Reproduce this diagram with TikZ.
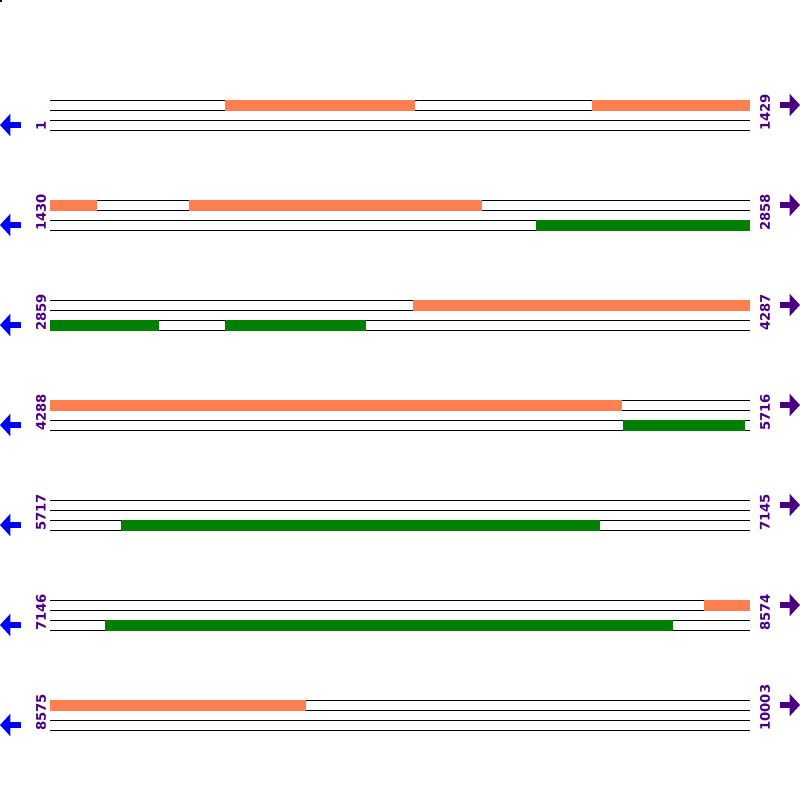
\documentclass[tikz,border=0pt]{standalone}
\usepackage{fontspec}
\setsansfont{DejaVu Sans}
\usetikzlibrary{arrows.meta}
\definecolor{coral}{HTML}{FF7F50}
\definecolor{leaf}{HTML}{008000}
\definecolor{indig}{HTML}{4B0082}
\definecolor{strandblue}{HTML}{0000FF}
\tikzset{
  trk/.style    ={draw=black, line width=.24mm},
  fwd/.style    ={fill=coral},
  rev/.style    ={fill=leaf},
  coordlbl/.style={font=\sffamily\bfseries\fontsize{9.4}{10}\selectfont, color=indig, rotate=90, anchor=west, inner sep=0pt},
  toleft/.style ={draw=strandblue, line width=1.7mm, -{Triangle[length=2.6mm,width=5.5mm]}},
  toright/.style={draw=indig, line width=1.7mm, -{Triangle[length=2.6mm,width=5.5mm]}},
}

\begin{document}
\begin{tikzpicture}[x=0.25mm,y=-0.25mm]
  \useasboundingbox[fill=white] (0,0) rectangle (800,800);
  \fill (0,0) rectangle (2,2);

  % strand lines, positions and direction arrows
  \foreach \r/\s/\e in {0/1/1429, 1/1430/2858, 2/2859/4287, 3/4288/5716,
                        4/5717/7145, 5/7146/8574, 6/8575/10003} {
    \pgfmathsetmacro{\yy}{100+100*\r}
    \foreach \k in {0,10,20,30}
      \draw[trk] (50,\yy+\k) -- (750,\yy+\k);
    \node[coordlbl] (s\r) at (41,\yy+31) {\s};
    \node[coordlbl] (e\r) at (765,\yy+31) {\e};
    \coordinate (la\r) at (21,\yy+25);
    \coordinate (lb\r) at (0,\yy+25);
    \coordinate (ra\r) at (780,\yy+5);
    \coordinate (rb\r) at (800,\yy+5);
    \draw[toleft] (la\r) -- (lb\r);
    \draw[toright] (ra\r) -- (rb\r);
  }

  % forward features
  \foreach \r/\a/\b in {0/225/415, 0/592/750, 1/50/97, 1/189/482, 2/413/750,
                        3/50/622, 5/704/750, 6/50/306}
    \fill[fwd] (\a,100+100*\r-0.5) rectangle (\b,110.5+100*\r);

  % reverse features
  \foreach \r/\a/\b in {1/536/750, 2/50/159, 2/225/366, 3/623/745,
                        4/121/600, 5/105/673}
    \fill[rev] (\a,120+100*\r-0.5) rectangle (\b,130.5+100*\r);
\end{tikzpicture}
\end{document}
